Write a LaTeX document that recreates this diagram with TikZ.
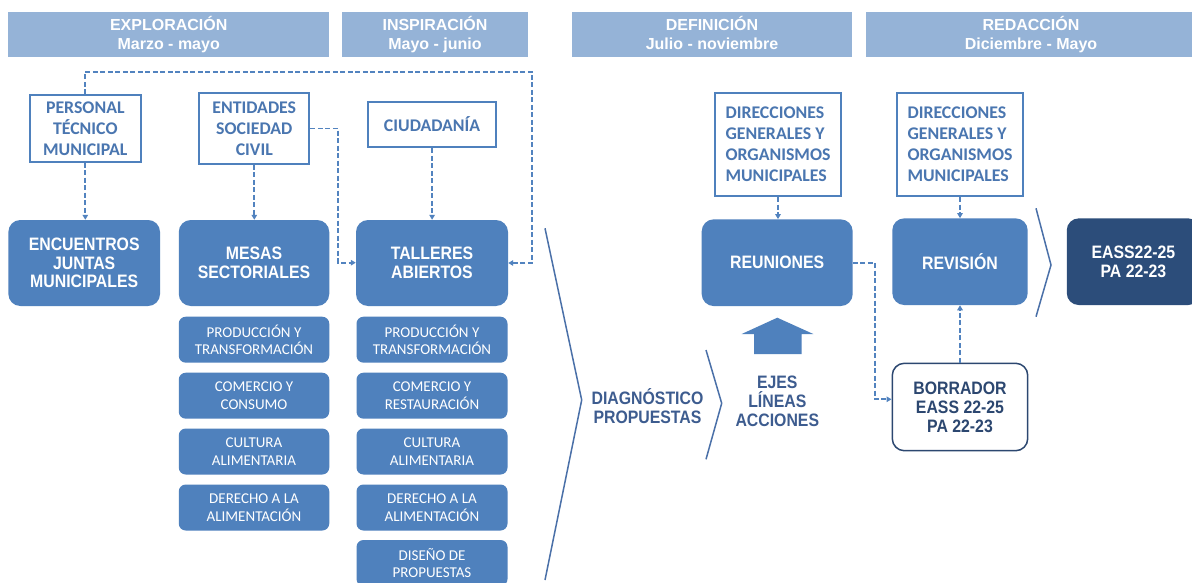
\documentclass[tikz,border=0pt]{standalone}
\usepackage{fontspec}
\setmainfont{Liberation Sans}
\newfontfamily\fnar[FakeStretch=0.88]{Liberation Sans}
\newfontfamily\fcal{Carlito}
\usetikzlibrary{arrows.meta}
\definecolor{boxc}{HTML}{4F81BD}
\definecolor{hdrc}{HTML}{95B3D7}
\definecolor{darkc}{HTML}{2C4D7A}
\definecolor{topt}{HTML}{4A76B0}
\definecolor{borc}{HTML}{2C4770}
\definecolor{diagc}{HTML}{3D5C8F}
\definecolor{chevc}{HTML}{4A70A8}
\definecolor{lnc}{HTML}{5283BF}
\tikzset{
  hdr/.style={fill=hdrc, minimum height=45.6pt, inner sep=0pt, text=white,
    font={\fontsize{16}{18.3}\selectfont\bfseries}, align=center},
  topbox/.style={draw=boxc, line width=2pt, fill=white, inner sep=0pt, text=topt,
    font={\fontsize{17.8}{21}\fcal\bfseries}, align=center},
  mainbox/.style={fill=boxc, rounded corners=12pt, inner sep=0pt, text=white,
    font={\fontsize{18}{18.5}\fnar\bfseries}, align=center, minimum height=86pt},
  subbox/.style={fill=boxc, rounded corners=7pt, inner sep=0pt, text=white,
    font={\fontsize{15}{17.5}\fcal}, align=center, minimum height=46pt},
  plain/.style={inner sep=0pt, text=diagc, font={\fontsize{18}{19}\fnar\bfseries}, align=center},
  conn/.style={draw=lnc, line width=1.8pt, dash pattern=on 5pt off 2.5pt,
    -{Triangle[length=5pt,width=5.5pt]}},
  chev/.style={draw=chevc, line width=1.5pt},
}
\begin{document}
\begin{tikzpicture}[x=1pt,y=-1pt]
\useasboundingbox (0,0) rectangle (1192,583);
\clip (0,0) rectangle (1192,583);
\fill[white] (0,0) rectangle (1192,583);
% headers
\node[hdr, minimum width=320.6pt] (h1) at (168.7,34.5) {EXPLORACIÓN\\Marzo - mayo};
\node[hdr, minimum width=186pt] (h2) at (435,34.5) {INSPIRACIÓN\\Mayo - junio};
\node[hdr, minimum width=280pt] (h3) at (712,34.5) {DEFINICIÓN\\Julio - noviembre\vphantom{y}};
\node[hdr, minimum width=330pt] (h4) at (1031,34.5) {REDACCIÓN\\Diciembre - Mayo};
% top boxes
\node[topbox, minimum width=110.7pt, minimum height=66.7pt] (pers) at (85.3,128.4) {PERSONAL\\TÉCNICO\\MUNICIPAL};
\node[topbox, minimum width=110pt, minimum height=70.7pt] (ent) at (254.3,128.6) {ENTIDADES\\SOCIEDAD\\CIVIL};
\node[topbox, minimum width=127.7pt, minimum height=45.6pt] (ciu) at (432.1,124.5) {CIUDADANÍA};
\node[topbox, align=left, minimum width=126pt, minimum height=103.3pt] (dir1) at (778,144.4) {DIRECCIONES\\GENERALES Y\\ORGANISMOS\\MUNICIPALES};
\node[topbox, align=left, minimum width=126.6pt, minimum height=103.3pt] (dir2) at (960,144.4) {DIRECCIONES\\GENERALES Y\\ORGANISMOS\\MUNICIPALES};
% main boxes
\node[mainbox, minimum width=151.7pt] (enc) at (84.2,263) {ENCUENTROS\\JUNTAS\\MUNICIPALES};
\node[mainbox, minimum width=150.5pt] (mes) at (254,263) {MESAS\\SECTORIALES};
\node[mainbox, minimum width=152pt] (tal) at (432,263) {TALLERES\\ABIERTOS};
\node[mainbox, minimum width=151pt, minimum height=86.7pt] (reu) at (777.2,262.7) {REUNIONES};
\node[mainbox, minimum width=135.4pt, minimum height=86.7pt] (rev) at (960,261.7) {REVISIÓN};
\node[mainbox, fill=darkc, minimum width=133.3pt, minimum height=86.7pt] (eass) at (1133.4,261.7) {EASS22-25\\PA 22-23};
% sub boxes
\node[subbox, minimum width=150.5pt] (m1) at (254,339.7) {PRODUCCIÓN Y\\TRANSFORMACIÓN};
\node[subbox, minimum width=150.5pt] (m2) at (254,395.7) {COMERCIO Y\\CONSUMO};
\node[subbox, minimum width=150.5pt] (m3) at (254,451.5) {CULTURA\\ALIMENTARIA};
\node[subbox, minimum width=150.5pt] (m4) at (254,507.5) {DERECHO A LA\\ALIMENTACIÓN};
\node[subbox, minimum width=151pt] (t1) at (432,339.7) {PRODUCCIÓN Y\\TRANSFORMACIÓN};
\node[subbox, minimum width=151pt] (t2) at (432,395.7) {COMERCIO Y\\RESTAURACIÓN};
\node[subbox, minimum width=151pt] (t3) at (432,451.5) {CULTURA\\ALIMENTARIA};
\node[subbox, minimum width=151pt] (t4) at (432,507.5) {DERECHO A LA\\ALIMENTACIÓN};
\node[subbox, minimum width=151pt] (t5) at (432,563) {DISEÑO DE\\PROPUESTAS};
% borrador
\node[draw=borc, line width=1.5pt, fill=white, rounded corners=12pt, inner sep=0pt,
  minimum width=135.4pt, minimum height=87.4pt, text=borc,
  font={\fontsize{18}{19}\fnar\bfseries}, align=center] (bor) at (960,407) {BORRADOR\\EASS 22-25\\PA 22-23};
% texts
\node[plain] (diag) at (647.5,406) {DIAGNÓSTICO\\PROPUESTAS};
\node[plain] (ejes) at (777.3,401.7) {EJES\\LÍNEAS\\ACCIONES};
% chevrons
\draw[chev] (545,228.3) -- (581.7,400) -- (545,580);
\draw[chev] (706,350) -- (721.7,403.3) -- (706,459.3);
\draw[chev] (1036,208.3) -- (1051,265) -- (1036,316.7);
% block arrow
\fill[boxc] (754,354) -- (754,334) -- (741.7,334) -- (777.3,317.7) -- (813.3,334) -- (801.7,334) -- (801.7,354) -- cycle;
% connectors
\coordinate (loopR) at (532.3,71.7);
\coordinate (entR) at (338.3,262.7);
\coordinate (reuR) at (875,399.3);
\draw[conn] (pers.north) |- (loopR) |- (tal.east);
\draw[conn] (pers.south) -- (pers.south |- enc.north);
\draw[conn] (ent.south) -- (ent.south |- mes.north);
\draw[conn] (ent.east) -| (entR) -- (entR -| tal.west);
\draw[conn] (ciu.south) -- (ciu.south |- tal.north);
\draw[conn] (dir1.south) -- (dir1.south |- reu.north);
\draw[conn] (dir2.south) -- (dir2.south |- rev.north);
\draw[conn] (reu.east) -| (reuR) -- (reuR -| bor.west);
\draw[conn] (bor.north) -- (bor.north |- rev.south);
\end{tikzpicture}
\end{document}
